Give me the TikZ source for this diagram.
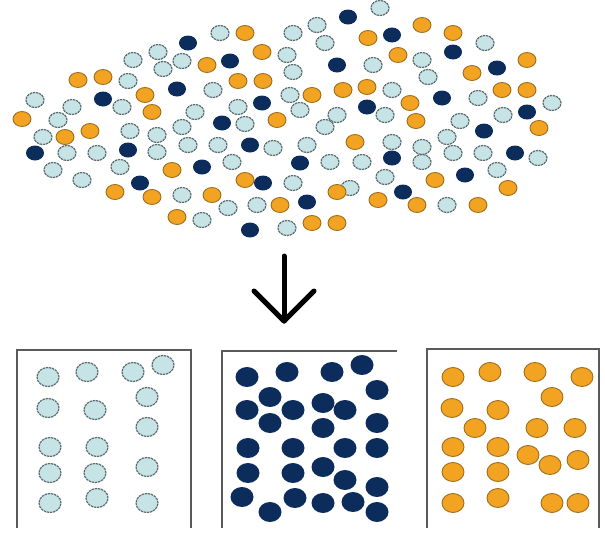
\documentclass[tikz,border=0pt]{standalone}
\usetikzlibrary{arrows.meta}
\definecolor{lbfill}{HTML}{C6E4E6}
\definecolor{lbdraw}{HTML}{5C6B70}
\definecolor{navy}{HTML}{0C2C5C}
\definecolor{orng}{HTML}{F2A322}
\definecolor{ogdraw}{HTML}{9E6E1C}
\definecolor{boxline}{HTML}{5A5A5A}
\tikzset{
  lb/.style={fill=lbfill, draw=lbdraw, line width=1.2pt, dash pattern=on 2.4pt off 0.8pt},
  dk/.style={fill=navy},
  og/.style={fill=orng, draw=ogdraw, line width=0.9pt},
  smalldot/.style={x radius=9pt, y radius=7.5pt},
  bigdot/.style={x radius=11pt, y radius=9.5pt},
  navydot/.style={x radius=11.5pt, y radius=10pt},
  boxside/.style={draw=boxline, line width=1.5pt},
  downarrow/.style={draw=black, line width=5pt, line cap=round, line join=round}
}
\begin{document}
\begin{tikzpicture}[x=1pt,y=-1pt]
\useasboundingbox (0,0) rectangle (605,533);
% ---------- cloud ----------
\foreach \p in {(220,33),(293,33),(158,52),(287,55),(133,60),(182,61),(163,69),(293,72),(128,81),(213,90),(290,95),(35,100),(72,107),(122,107),(238,107),(195,112),(300,110),(58,120),(245,124),(182,127),(130,131),(43,137),(157,135),(67,153),(97,153),(157,152),(188,145),(218,145),(273,148),(53,170),(120,167),(232,162),(82,180),(293,183),(182,195),(228,208),(257,205),(202,220),(287,228),(380,8),(317,25),(325,43),(485,43),(422,60),(373,65),(428,77),(392,90),(478,98),(552,103),(337,115),(385,115),(460,121),(503,115),(325,127),(307,145),(392,142),(447,137),(422,147),(453,153),(483,153),(538,158),(330,162),(362,162),(422,162),(497,170),(385,177),(350,188),(447,205)}
  \draw[lb] \p ellipse [smalldot];
\foreach \p in {(188,43),(230,61),(177,89),(103,99),(262,103),(222,123),(35,153),(128,150),(250,145),(202,167),(300,163),(140,183),(263,183),(250,230),(348,17),(392,35),(453,52),(337,65),(497,68),(442,98),(367,107),(527,112),(484,131),(392,158),(515,153),(465,175),(403,192),(307,202)}
  \fill[dk] \p ellipse [smalldot];
\foreach \p in {(245,33),(262,52),(207,65),(78,80),(103,77),(238,81),(263,81),(145,95),(152,112),(22,119),(277,120),(90,131),(65,137),(172,170),(245,180),(115,192),(152,197),(212,195),(280,205),(177,217),(422,25),(368,38),(453,33),(398,55),(527,60),(472,73),(312,95),(343,90),(367,87),(502,90),(527,90),(410,103),(416,121),(539,128),(355,142),(435,180),(508,188),(337,192),(378,200),(417,205),(478,205),(312,223),(337,223)}
  \draw[og] \p ellipse [smalldot];
% ---------- arrow ----------
\coordinate (atop) at (284,256);
\coordinate (atip) at (284,321);
\coordinate (aleft) at (254,291);
\coordinate (aright) at (314,291);
\draw[downarrow] (atop) -- (atip);
\draw[downarrow] (aleft) -- (atip) -- (aright);
% ---------- boxes ----------
\coordinate (b1bl) at (17,528); \coordinate (b1tl) at (17,350);
\coordinate (b1tr) at (191,350); \coordinate (b1br) at (191,528);
\draw[boxside] (b1bl) -- (b1tl) -- (b1tr) -- (b1br);
\coordinate (b2bl) at (222,528); \coordinate (b2tl) at (222,351);
\coordinate (b2tr) at (397,351);
\draw[boxside] (b2bl) -- (b2tl) -- (b2tr);
\coordinate (b3bl) at (427,528); \coordinate (b3tl) at (427,349);
\coordinate (b3tr) at (599,349); \coordinate (b3br) at (599,528);
\draw[boxside] (b3bl) -- (b3tl) -- (b3tr) -- (b3br);
% ---------- box dots ----------
\foreach \p in {(48,377),(87,372),(133,372),(163,365),(147,397),(48,408),(95,410),(147,427),(50,447),(97,447),(50,473),(95,473),(147,467),(50,503),(97,498),(147,503)}
  \draw[lb] \p ellipse [bigdot];
\foreach \p in {(247,377),(287,372),(332,372),(362,365),(377,390),(270,397),(247,410),(293,410),(323,403),(345,410),(270,423),(323,428),(377,423),(248,448),(293,448),(345,448),(377,448),(248,473),(293,473),(323,467),(345,480),(377,487),(242,497),(270,512),(295,498),(323,503),(353,502),(377,512)}
  \fill[dk] \p ellipse [navydot];
\foreach \p in {(453,377),(490,372),(535,372),(582,377),(552,397),(452,408),(498,410),(475,428),(537,428),(575,428),(453,447),(498,447),(528,455),(550,465),(578,460),(453,472),(498,472),(453,503),(498,498),(552,503),(578,503)}
  \draw[og] \p ellipse [bigdot];
\end{tikzpicture}
\end{document}
